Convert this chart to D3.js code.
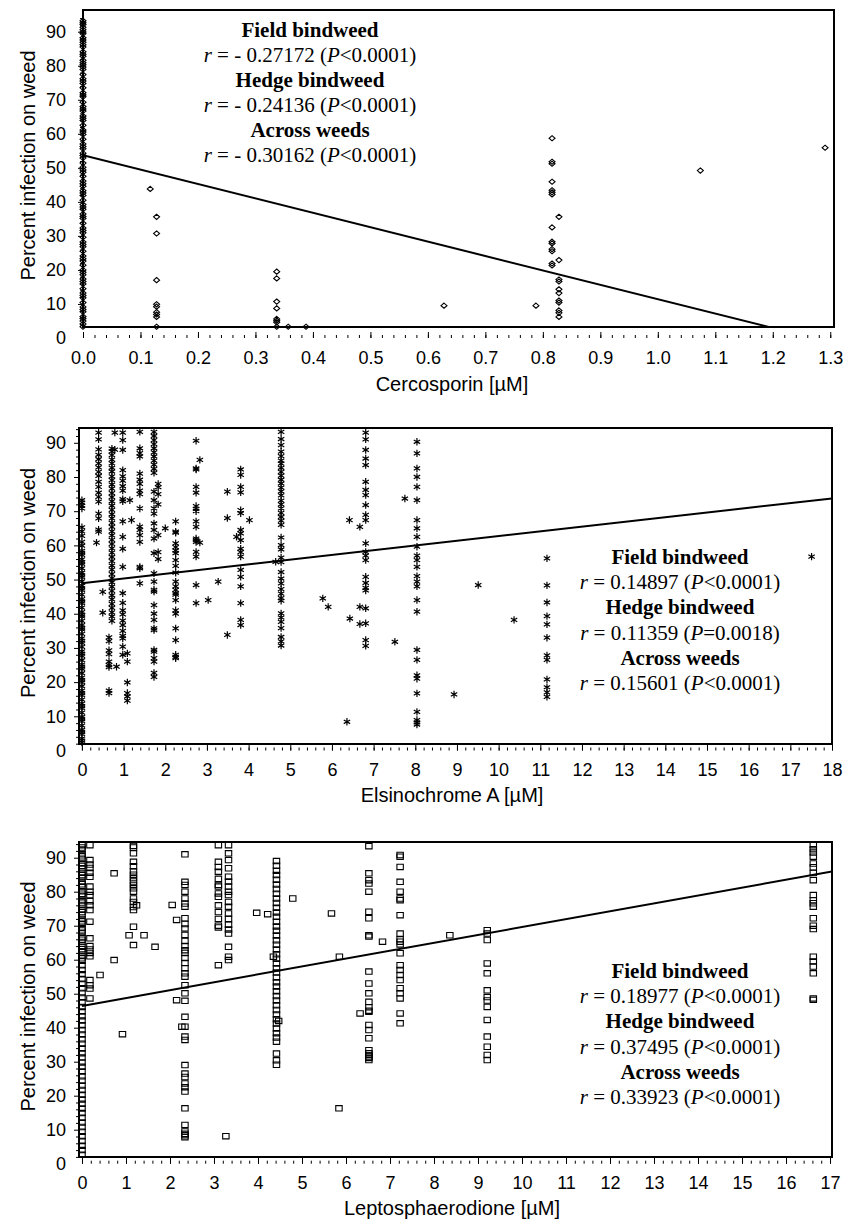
<!DOCTYPE html>
<html>
<head>
<meta charset="utf-8">
<script src="https://cdn.jsdelivr.net/npm/d3@7"></script>
<style>
  body { margin: 0; background: #fff; }
  svg { display: block; }
  .tick text { font-family: "Liberation Sans", Arial, sans-serif; font-size: 18px; fill: #000; }
  .tick line { stroke: #000; stroke-width: 1; }
  .axis-title { font-family: "Liberation Sans", Arial, sans-serif; font-size: 20px; fill: #000; }
  .note { font-family: "Liberation Serif", "Times New Roman", serif; font-size: 21px; fill: #000; }
</style>
</head>
<body>
<div id="chart"></div>
<script>
const W = 844;
const H = 1219;

// shared axis values
const percentTicks = [0, 10, 20, 30, 40, 50, 60, 70, 80, 90];
const weedNames = ["Field bindweed", "Hedge bindweed", "Across weeds"];

// ---- panel 1: cercosporin ----
const cercoTicks = [0, 0.1, 0.2, 0.3, 0.4, 0.5, 0.6, 0.7, 0.8, 0.9, 1.0, 1.1, 1.2, 1.3];
const cercoPoints = [
    [0, [93.2, 92.6, 92.1, 91.3, 90.6, 89.9, 89.4, 88.2, 87.6, 86.9, 86.2, 85.5, 84.1, 83.4, 82.8, 81.6, 80.9, 80.3,
        79.6, 78.9, 77.4, 76.2, 75.5, 74.8, 73.5, 72.1, 71.4, 70.9, 69.3, 68.0, 67.3, 66.7, 65.2, 64.6, 63.9, 62.5,
        61.1, 60.5, 59.8, 58.4, 57.0, 56.3, 55.6, 54.3, 53.6, 52.9, 51.4, 50.2, 49.4, 48.7, 47.5, 46.1, 45.3, 44.6,
        43.3, 42.6, 41.9, 40.5, 39.2, 38.5, 37.8, 36.4, 35.7, 35.1, 33.7, 32.3, 31.6, 30.9, 29.6, 28.2, 27.5, 26.8,
        25.5, 24.1, 23.3, 22.6, 21.4, 20.0, 19.3, 18.6, 17.3, 16.6, 15.9, 14.5, 13.2, 12.5, 11.8, 10.4, 9.1, 8.4,
        7.7, 6.3, 5.7, 5.0, 4.1, 3.3]],
    [0.117, [43.8]],
    [0.128, [35.6, 30.7, 17.0, 9.9, 9.2, 7.6, 6.9, 6.2, 3.3]],
    [0.337, [19.5, 17.5, 10.7, 8.7, 5.6, 5.1, 4.6, 3.3]],
    [0.357, [3.3]],
    [0.388, [3.3]],
    [0.628, [9.5]],
    [0.788, [9.5]],
    [0.816, [58.7, 51.8, 51.2, 45.9, 43.4, 42.8, 42.2, 32.5, 28.3, 27.8, 26.1, 25.5, 21.9, 21.3]],
    [0.828, [35.6, 22.9, 17.2, 16.6, 14.3, 13.2, 11.0, 10.4, 8.1, 7.4, 6.2]],
    [1.074, [49.2]],
    [1.291, [55.9]]
];
const cercoFit = [53.7, -42.3]; // intercept, slope
const cercoR = ["- 0.27172", "- 0.24136", "- 0.30162"];
const cercoP = ["<0.0001", "<0.0001", "<0.0001"];

// ---- panel 2: elsinochrome A ----
const elsTicks = [0, 1, 2, 3, 4, 5, 6, 7, 8, 9, 10, 11, 12, 13, 14, 15, 16, 17, 18];
const elsPoints = [
    [0, [73.2, 72.5, 71.6, 70.8, 65.3, 64.1, 62.8, 61.0, 59.9, 58.4, 57.8, 57.2, 55.9, 55.1, 54.6, 53.3, 52.0, 51.2,
        50.7, 49.5, 48.2, 47.4, 46.9, 45.6, 44.3, 43.6, 43.1, 41.8, 40.5, 39.7, 39.2, 37.9, 36.7, 35.9, 35.4, 34.1,
        32.8, 32.1, 31.5, 30.3, 29.0, 28.3, 27.7, 26.4, 25.1, 24.5, 23.9, 22.6, 21.3, 20.6, 20.0, 18.8, 17.5, 16.8,
        16.2, 14.9, 13.7, 13.0, 12.4, 11.1, 9.8, 9.2, 8.6, 7.3, 6.0, 5.4, 4.8, 3.5, 2.9, 2.3]],
    [0.35, [60.8]],
    [0.40, [93.0, 91.0, 88.1, 86.5, 85.2, 84.0, 82.8, 81.5, 80.3, 78.6, 77.1, 75.4, 74.2, 72.8, 69.3, 67.9, 64.6, 64.0]],
    [0.50, [46.4, 40.3]],
    [0.65, [33.1, 32.0, 29.3, 28.2, 26.0, 25.0, 24.4, 17.5, 16.8]],
    [0.72, [88.3, 87.5, 86.4, 85.1, 84.0, 82.7, 81.6, 80.2, 79.1, 77.8, 76.6, 75.3, 74.1, 72.9, 71.6, 70.4, 69.1,
        67.9, 66.6, 65.4, 64.1, 62.9, 61.6, 60.4, 59.1, 57.9, 56.6, 55.4, 54.1, 52.9, 51.6, 50.4, 49.2, 47.9, 46.7,
        45.4, 44.2, 42.9, 41.7, 40.4, 39.2, 37.9]],
    [0.79, [93.0, 88.0]],
    [0.83, [24.5]],
    [0.98, [93.0, 90.8, 87.9, 82.0, 80.2, 78.9, 77.3, 76.0, 73.5, 72.9, 67.0, 62.5, 59.0, 53.7, 46.0, 43.2, 41.0,
        39.8, 38.0, 36.7, 35.0, 33.5, 32.8, 30.4, 28.0]],
    [1.09, [28.4, 26.0, 19.9, 16.8, 15.8, 14.6]],
    [1.15, [73.2]],
    [1.19, [67.4]],
    [1.39, [93.2, 88.4, 87.0, 86.0, 81.0, 79.2, 78.0, 76.0, 75.0, 70.8, 65.5, 64.5, 63.0, 61.0, 53.7, 53.3, 48.9]],
    [1.73, [93.2, 92.0, 90.8, 89.6, 88.4, 87.2, 86.0, 84.8, 83.6, 82.4, 81.2, 75.7, 73.2, 70.8, 69.3, 66.4, 64.5,
        62.0, 57.7, 51.8, 49.4, 47.0, 46.5, 42.5, 40.0, 38.2, 35.7, 35.2, 29.4, 28.9, 27.0, 26.0, 22.7, 21.5]],
    [1.83, [78.0, 77.0, 75.0, 72.0, 63.0, 58.0, 56.0]],
    [2.0, [65.0]],
    [2.25, [67.0, 64.0, 63.7, 60.6, 59.5, 58.5, 57.7, 55.7, 54.0, 52.0, 49.4, 48.0, 47.0, 46.0, 45.6, 44.0, 41.0,
        40.0, 35.7, 32.3, 28.0, 27.4, 27.0]],
    [2.74, [90.6, 82.5, 82.2, 77.1, 75.4, 71.5, 70.7, 70.0, 67.0, 65.4, 62.0, 61.5, 61.0, 58.1, 56.7, 48.4, 43.1]],
    [2.83, [85.0, 60.8]],
    [3.03, [44.0]],
    [3.27, [49.4]],
    [3.49, [75.7, 68.0, 33.8]],
    [3.71, [62.5]],
    [3.81, [82.2, 80.6, 77.1, 75.5, 70.3, 69.4, 64.5, 63.5, 61.5, 59.0, 58.0, 56.7, 52.8, 50.8, 48.0, 43.1, 38.2, 36.7]],
    [4.02, [67.4]],
    [4.65, [55.2]],
    [4.78, [93.2, 91.1, 89.3, 87.4, 86.1, 84.8, 83.9, 82.7, 81.5, 80.4, 79.2, 78.1, 76.9, 75.8, 74.6, 73.1, 72.0,
        70.8, 69.5, 68.3, 67.2, 66.0, 62.3, 60.1, 58.8, 56.4, 55.1, 52.2, 50.3, 48.9, 47.2, 45.9, 44.6, 43.8,
        40.1, 38.9, 37.6, 35.8, 33.2, 31.9, 30.7]],
    [5.78, [44.5]],
    [5.91, [42.0]],
    [6.36, [8.4]],
    [6.42, [67.4]],
    [6.43, [38.6]],
    [6.67, [65.4, 42.0, 37.0]],
    [6.81, [93.0, 91.0, 87.9, 85.4, 83.5, 78.6, 76.2, 74.7, 71.8, 68.9, 67.4, 60.6, 58.1, 57.0, 55.7, 50.8, 49.0,
        47.6, 46.8, 41.6, 37.2, 32.3, 30.6]],
    [7.51, [31.8]],
    [7.75, [73.7]],
    [8.04, [90.3, 86.9, 82.5, 80.0, 77.1, 73.2, 67.4, 65.0, 62.5, 59.6, 57.0, 55.7, 53.7, 51.0, 49.4, 48.0, 44.0,
        40.6, 29.4, 26.5, 22.0, 21.0, 16.7, 11.3, 8.9, 8.2, 7.6]],
    [8.93, [16.4]],
    [9.51, [48.4]],
    [10.37, [38.2]],
    [11.16, [56.2, 48.3, 43.3, 39.3, 36.9, 33.0, 27.8, 26.5, 20.8, 18.5, 17.0, 15.7]],
    [17.51, [56.7]]
];
const elsFit = [48.9, 1.38];
const elsR = ["0.14897", "0.11359", "0.15601"];
const elsP = ["<0.0001", "=0.0018", "<0.0001"];

// ---- panel 3: leptosphaerodione ----
const leptoTicks = [0, 1, 2, 3, 4, 5, 6, 7, 8, 9, 10, 11, 12, 13, 14, 15, 16, 17];
const leptoPoints = [
    [0, [93.7, 93.0, 92.4, 91.0, 90.4, 89.7, 88.3, 87.6, 86.9, 85.6, 84.9, 84.2, 82.9, 82.2, 81.5, 80.1, 79.4, 78.8,
        77.4, 76.8, 76.1, 74.7, 74.0, 73.3, 72.0, 71.3, 70.6, 69.3, 68.6, 67.9, 66.5, 65.9, 65.2, 63.8, 63.1, 62.5,
        61.1, 60.4, 59.7, 58.4, 57.0, 55.7, 54.3, 52.9, 51.6, 50.2, 48.9, 47.5, 46.1, 44.8, 43.4, 42.1, 40.7, 39.3,
        38.0, 36.6, 35.3, 33.9, 32.5, 31.2, 29.8, 28.5, 27.1, 25.7, 24.4, 23.0, 21.7, 20.3, 18.9, 17.6, 16.2, 14.9,
        13.5, 12.1, 10.8, 9.4, 8.1, 6.7, 5.3, 4.0, 2.6]],
    [0.18, [93.7, 89.3, 88.0, 87.0, 85.6, 84.4, 81.5, 80.0, 79.0, 77.2, 76.0, 74.6, 71.2, 66.3, 64.0, 63.0, 62.0,
        61.0, 54.0, 52.5, 51.5, 48.6]],
    [0.41, [55.5]],
    [0.73, [85.4, 59.9]],
    [0.92, [38.1]],
    [1.07, [67.2]],
    [1.17, [93.5, 93.0, 91.3, 88.8, 87.5, 86.0, 85.0, 84.0, 83.0, 82.0, 81.0, 80.0, 78.0, 77.0, 75.5, 74.6, 69.7, 64.3]],
    [1.24, [76.0]],
    [1.41, [67.2]],
    [1.66, [63.8]],
    [2.05, [76.1]],
    [2.15, [71.7, 48.1]],
    [2.27, [40.3]],
    [2.34, [91.0, 82.9, 82.0, 80.0, 78.0, 76.5, 75.6, 72.2, 70.5, 69.2, 67.3, 65.5, 64.0, 62.8, 62.0, 60.5, 59.0,
        57.5, 56.0, 55.0, 52.5, 50.1, 47.9, 43.2, 40.3, 37.4, 36.4, 29.0, 26.5, 25.5, 23.6, 22.5, 21.2, 16.3, 11.4,
        9.5, 8.8, 8.4, 7.8]],
    [3.10, [93.7, 88.8, 87.3, 85.9, 83.8, 82.0, 81.5, 79.5, 78.5, 76.0, 74.0, 72.0, 70.0, 69.5, 58.4]],
    [3.27, [8.1]],
    [3.33, [93.7, 91.3, 89.3, 86.9, 84.4, 83.0, 81.5, 80.0, 79.0, 77.0, 75.6, 73.6, 72.0, 70.3, 68.9, 67.7, 63.8,
        60.9, 59.9]],
    [3.97, [73.8]],
    [4.22, [73.4]],
    [4.35, [60.9]],
    [4.42, [89.0, 87.6, 86.2, 84.9, 83.5, 82.1, 80.8, 79.4, 78.0, 76.7, 75.3, 73.9, 72.6, 71.2, 69.8, 68.5, 67.1,
        65.7, 64.4, 63.0, 61.6, 60.3, 58.9, 57.5, 56.2, 54.8, 53.4, 52.1, 50.7, 49.3, 48.0, 46.6, 45.2, 43.9, 42.5,
        41.2, 39.8, 38.4, 37.1, 35.9, 32.4, 30.4, 29.1]],
    [4.47, [42.0]],
    [4.79, [78.0]],
    [5.67, [73.6]],
    [5.84, [16.3]],
    [5.85, [60.9]],
    [6.32, [44.2]],
    [6.52, [93.4, 85.4, 83.4, 82.4, 80.0, 74.1, 72.2, 67.2, 66.8, 56.5, 53.0, 50.1, 47.6, 46.0, 45.0, 44.7, 40.8,
        39.3, 36.9, 33.4, 32.5, 32.0, 31.5, 31.1, 30.5]],
    [6.83, [65.3]],
    [7.23, [90.8, 90.3, 87.3, 82.9, 80.0, 78.0, 77.5, 73.1, 67.7, 66.0, 65.3, 64.5, 61.9, 58.4, 57.0, 55.5, 54.0,
        51.6, 50.1, 48.6, 44.2, 41.3]],
    [8.36, [67.2]],
    [9.21, [68.7, 67.7, 65.8, 58.9, 56.0, 51.0, 49.0, 48.0, 46.1, 42.3, 37.4, 34.4, 32.0, 30.5]],
    [16.62, [93.7, 92.5, 91.5, 90.3, 88.3, 87.2, 85.5, 83.4, 79.0, 77.5, 76.6, 75.6, 72.2, 70.0, 69.0, 60.9, 59.5,
        58.0, 56.0, 48.6, 48.2]]
];
const leptoFit = [46.4, 2.32];
const leptoR = ["0.18977", "0.37495", "0.33923"];
const leptoP = ["<0.0001", "<0.0001", "<0.0001"];

// marker shapes
const DIAMOND = "M0,-2.6L3,0L0,2.6L-3,0Z";
const STAR = "M0,-3.7V3.7M-3.2,-1.85L3.2,1.85M-3.2,1.85L3.2,-1.85";
const SQUARE = "M-3.2,-2.7H3.2V2.7H-3.2Z";

const svg = d3.select("#chart").append("svg")
    .attr("width", W)
    .attr("height", H);

function drawPanel(p) {
    const x = d3.scaleLinear().domain(p.xDomain).range([p.left, p.right]);
    const y = d3.scaleLinear().domain(p.yDomain).range([p.bottom, p.top]);
    const g = svg.append("g");

    g.append("clipPath").attr("id", "clip-" + p.id)
        .append("rect")
        .attr("x", p.left).attr("y", p.top)
        .attr("width", p.right - p.left).attr("height", p.bottom - p.top);

    // y axis: minor then major ticks, the frame is the axis line
    g.append("g")
        .attr("transform", "translate(" + p.left + ",0)")
        .call(d3.axisLeft(y)
            .tickValues(d3.range(2, 95, 2).filter(v => v % 10 !== 0 && v >= p.yDomain[0] && v <= p.yDomain[1]))
            .tickSize(3).tickFormat(""))
        .call(a => a.select(".domain").remove());

    g.append("g")
        .attr("transform", "translate(" + p.left + ",0)")
        .call(d3.axisLeft(y).tickValues(percentTicks).tickSize(5)
            .tickPadding(p.left - 66 - 5).tickFormat(d3.format("d")))
        .call(a => a.select(".domain").remove())
        .call(a => a.selectAll(".tick").filter(d => d < p.yDomain[0]).select("line").remove());

    // x axis hangs from the zero level, ticks pointing up
    g.append("g")
        .attr("transform", "translate(0," + y(0) + ")")
        .call(d3.axisBottom(x).tickValues(p.xMinor).tickSize(-3).tickFormat(""))
        .call(a => a.select(".domain").remove());

    g.append("g")
        .attr("transform", "translate(0," + y(0) + ")")
        .call(d3.axisBottom(x).tickValues(p.xTicks).tickSize(-6).tickPadding(13).tickFormat(p.xFormat))
        .call(a => a.select(".domain").remove());

    // frame
    g.append("rect")
        .attr("x", p.left).attr("y", p.top)
        .attr("width", p.right - p.left).attr("height", p.bottom - p.top)
        .attr("fill", "none")
        .attr("stroke", "#000")
        .attr("stroke-width", 2);

    // regression line
    g.append("path")
        .datum([0, p.xDomain[1]])
        .attr("clip-path", "url(#clip-" + p.id + ")")
        .attr("fill", "none")
        .attr("stroke", "#000")
        .attr("stroke-width", 2)
        .attr("d", d3.line()
            .x(d => x(d))
            .y(d => y(p.fit[0] + p.fit[1] * d)));

    // points
    const pts = [];
    p.points.forEach(col => col[1].forEach(v => pts.push([col[0], v])));
    g.append("g")
        .selectAll("path")
        .data(pts)
        .enter()
        .append("path")
        .attr("transform", d => "translate(" + x(d[0]) + "," + y(d[1]) + ")")
        .attr("d", p.marker)
        .attr("fill", "none")
        .attr("stroke", "#000")
        .attr("stroke-width", p.markerWidth);

    // statistics text
    const note = g.append("g");
    weedNames.forEach((name, i) => {
        note.append("text")
            .attr("class", "note")
            .attr("x", p.noteX)
            .attr("y", p.noteY + i * 2 * p.noteStep)
            .attr("text-anchor", "middle")
            .attr("font-weight", "bold")
            .text(name);
        const t = note.append("text")
            .attr("class", "note")
            .attr("x", p.noteX)
            .attr("y", p.noteY + (i * 2 + 1) * p.noteStep)
            .attr("text-anchor", "middle");
        t.append("tspan").attr("font-style", "italic").text("r");
        t.append("tspan").text(" = " + p.r[i] + " (");
        t.append("tspan").attr("font-style", "italic").text("P");
        t.append("tspan").text(p.pv[i] + ")");
    });

    // axis titles
    g.append("text")
        .attr("class", "axis-title")
        .attr("x", 452)
        .attr("y", p.xTitleY)
        .attr("text-anchor", "middle")
        .text(p.xTitle);

    g.append("text")
        .attr("class", "axis-title")
        .attr("transform", "translate(35," + ((p.top + p.bottom) / 2 - 3) + ") rotate(-90)")
        .attr("text-anchor", "middle")
        .text("Percent infection on weed");
}

drawPanel({
    id: 1, left: 83, right: 834, top: 10, bottom: 327,
    xDomain: [0, 1.3065], yDomain: [3.23, 96.38],
    xTicks: cercoTicks, xMinor: d3.range(0, 1.31, 0.02), xFormat: d3.format(".1f"),
    points: cercoPoints, marker: DIAMOND, markerWidth: 1.1,
    fit: cercoFit, r: cercoR, pv: cercoP,
    noteX: 310, noteY: 37, noteStep: 25,
    xTitle: "Cercosporin [µM]", xTitleY: 391
});

drawPanel({
    id: 2, left: 79, right: 832, top: 428, bottom: 744,
    xDomain: [-0.07, 18], yDomain: [1.9, 94.33],
    xTicks: elsTicks, xMinor: d3.range(0, 18.01, 0.2), xFormat: d3.format("d"),
    points: elsPoints, marker: STAR, markerWidth: 1.2,
    fit: elsFit, r: elsR, pv: elsP,
    noteX: 680, noteY: 564, noteStep: 25.2,
    xTitle: "Elsinochrome A [µM]", xTitleY: 802
});

drawPanel({
    id: 3, left: 79, right: 832, top: 842, bottom: 1157,
    xDomain: [-0.068, 17.045], yDomain: [1.97, 94.62],
    xTicks: leptoTicks, xMinor: d3.range(0, 17.01, 0.2), xFormat: d3.format("d"),
    points: leptoPoints, marker: SQUARE, markerWidth: 1.1,
    fit: leptoFit, r: leptoR, pv: leptoP,
    noteX: 680, noteY: 978, noteStep: 25.2,
    xTitle: "Leptosphaerodione [µM]", xTitleY: 1215
});
</script>
</body>
</html>
